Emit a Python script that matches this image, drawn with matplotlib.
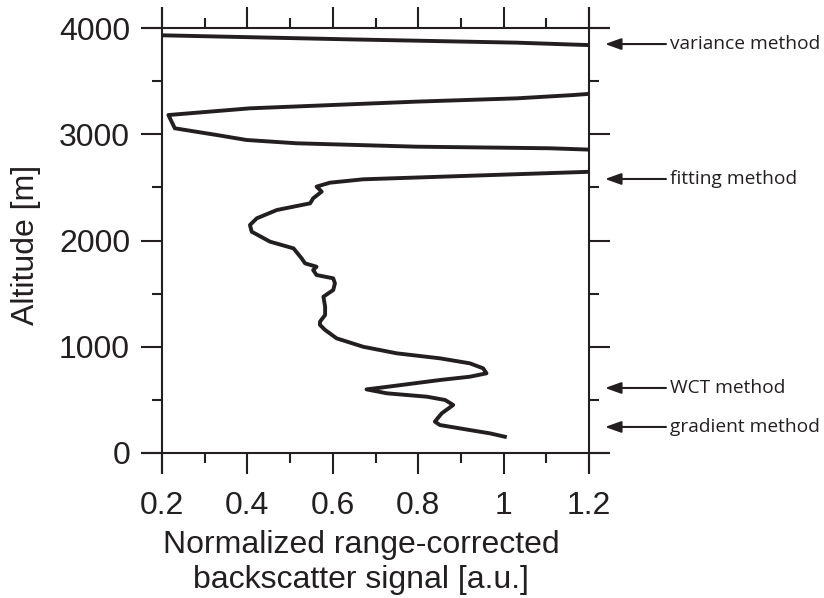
import matplotlib
matplotlib.use("Agg")
import matplotlib.pyplot as plt
from matplotlib.ticker import MultipleLocator, FixedLocator, FixedFormatter

# ---- data ----
signal = [1.003, 0.968, 0.921, 0.851, 0.839, 0.855, 0.882, 0.863, 0.820, 0.726,
          0.679, 0.718, 0.851, 0.921, 0.960, 0.952, 0.921, 0.851, 0.750, 0.671,
          0.609, 0.582, 0.570, 0.570, 0.582, 0.582, 0.578, 0.601, 0.605, 0.601,
          0.562, 0.554, 0.562, 0.535, 0.527, 0.508, 0.453, 0.410, 0.406, 0.422,
          0.469, 0.547, 0.554, 0.574, 0.562, 0.593, 0.671, 1.600, 1.600, 1.109,
          0.796, 0.515, 0.398, 0.328, 0.230, 0.215, 0.406, 0.796, 1.031, 1.163,
          1.500, 1.500, 1.148, 1.031, 0.640, 0.203]
altitude = [153, 185, 216, 263, 295, 373, 452, 499, 530, 562,
            599, 618, 687, 718, 750, 797, 844, 891, 938, 1000,
            1079, 1158, 1205, 1236, 1299, 1377, 1471, 1534, 1597, 1644,
            1675, 1722, 1753, 1785, 1832, 1926, 1989, 2083, 2146, 2209,
            2287, 2350, 2397, 2460, 2507, 2544, 2576, 2700, 2800, 2868,
            2883, 2915, 2946, 2993, 3056, 3181, 3244, 3307, 3338, 3369,
            3470, 3800, 3846, 3862, 3893, 3931]

methods = ["variance method", "fitting method", "WCT method", "gradient method"]
method_heights = [3849, 2579, 612, 245]

x_ticks = [0.2, 0.4, 0.6, 0.8, 1.0, 1.2]
x_ticklabels = ["0.2", "0.4", "0.6", "0.8", "1", "1.2"]
y_ticks = [0, 1000, 2000, 3000, 4000]
y_ticklabels = ["0", "1000", "2000", "3000", "4000"]

ink = "#231f20"
plt.rcParams["font.family"] = ["Liberation Sans", "DejaVu Sans"]

fig = plt.figure(figsize=(8.24, 5.98), dpi=100)
ax = fig.add_axes([162 / 824, 1 - 453 / 598, 427 / 824, 425 / 598])

ax.plot(signal, altitude, color=ink, lw=2.8, solid_joinstyle="round", zorder=3)

ax.set_xlim(0.2, 1.2)
ax.set_ylim(0, 4000)

ax.xaxis.set_major_locator(FixedLocator(x_ticks))
ax.xaxis.set_major_formatter(FixedFormatter(x_ticklabels))
ax.xaxis.set_minor_locator(MultipleLocator(0.1))
ax.yaxis.set_major_locator(FixedLocator(y_ticks))
ax.yaxis.set_major_formatter(FixedFormatter(y_ticklabels))
ax.yaxis.set_minor_locator(MultipleLocator(500))

ax.tick_params(which="both", direction="out", top=True, right=True,
               width=1.5, color=ink, labelcolor=ink, labelsize=23)
ax.tick_params(axis="y", which="both", pad=8)
ax.tick_params(axis="x", which="both", pad=12)
ax.tick_params(which="major", length=15)
ax.tick_params(which="minor", length=7.5)

for s in ax.spines.values():
    s.set_visible(False)
ex = 0.049
ey = 0.049
kw = dict(transform=ax.transAxes, clip_on=False, color=ink, lw=1.5,
          solid_capstyle="butt", zorder=4)
ax.plot([-ex, 1 + ex], [0, 0], **kw)
ax.plot([-ex, 1 + ex], [1, 1], **kw)
ax.plot([0, 0], [-ey, 1 + ey], **kw)
ax.plot([1, 1], [-ey, 1 + ey], **kw)

ax.set_ylabel("Altitude [m]", fontsize=23, color=ink)
ax.yaxis.set_label_coords(-0.283, 0.49)
ax.set_xlabel("Normalized range-corrected\nbackscatter signal [a.u.]",
              fontsize=23, color=ink, linespacing=1.25)
ax.xaxis.set_label_coords(0.466, -0.18)
ax.xaxis.label.set_va("top")

for name, h in zip(methods, method_heights):
    ax.annotate(name, xy=(1.0375, h), xycoords=("axes fraction", "data"),
                xytext=(1.19, h), textcoords=("axes fraction", "data"),
                ha="left", va="center", fontsize=13.8, color=ink,
                family=["Open Sans", "DejaVu Sans"],
                arrowprops=dict(arrowstyle="-|>,head_length=0.7,head_width=0.25",
                                color=ink, lw=1.5, shrinkA=1, shrinkB=0),
                annotation_clip=False)

fig.savefig("out.png", dpi=100)
